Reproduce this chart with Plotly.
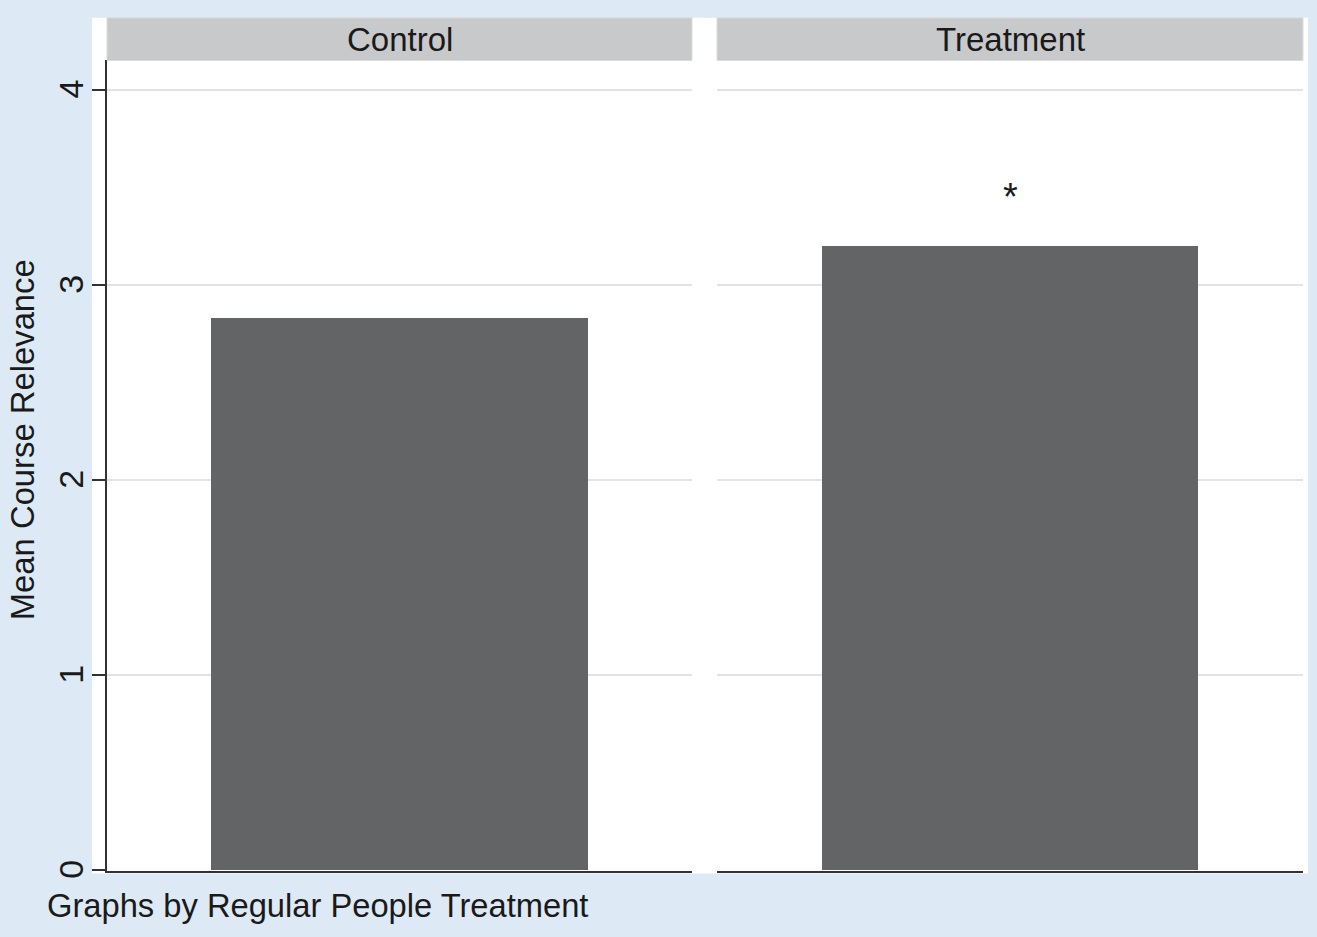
import plotly.graph_objects as go

W, H = 1317, 937

groups = ["Control", "Treatment"]
means = [2.83, 3.20]
significance = ["", "*"]
y_ticks = [0, 1, 2, 3, 4]
y_title = "Mean Course Relevance"
note = "Graphs by Regular People Treatment"

BG = "#dde9f5"
BAR = "#636466"
STRIP = "#c8c9cb"
GRID = "#e3e3e3"
AXIS = "#333333"
TXT = "#1a1a1a"
FONT = "Liberation Sans"
FS = 33

def px_x(p):
    return p / W

def px_y(p):
    return 1 - p / H

panel_x = [(107, 692), (717, 1303)]
y_bottom, y_top = 878, 61
# 0 at 878, 4 at 91
unit = (878 - 91) / 4
y_max = (y_bottom - y_top) / unit

fig = go.Figure()

for i, (g, m) in enumerate(zip(groups, means)):
    fig.add_trace(go.Bar(
        x=[g], y=[m], width=0.643,
        marker=dict(color=BAR, line=dict(width=0)),
        xaxis="x" if i == 0 else "x2",
        yaxis="y" if i == 0 else "y2",
        showlegend=False,
        hoverinfo="x+y",
    ))

layout = dict(
    width=W, height=H,
    margin=dict(l=0, r=0, t=0, b=0),
    paper_bgcolor=BG,
    plot_bgcolor="white",
    font=dict(family=FONT, size=FS, color=TXT),
    bargap=0,
)

for i, g in enumerate(groups):
    sx = "" if i == 0 else "2"
    x0, x1 = panel_x[i]
    layout["xaxis" + sx] = dict(
        domain=[px_x(x0), px_x(x1)],
        type="category", categoryorder="array", categoryarray=[g], range=[-0.5, 0.5],
        showticklabels=False, ticks="", showgrid=False, zeroline=False,
        showline=True, linecolor=AXIS, linewidth=2,
        anchor="y" + sx, fixedrange=True,
    )
    layout["yaxis" + sx] = dict(
        domain=[px_y(y_bottom), px_y(y_top)],
        range=[0, y_max],
        tickvals=y_ticks,
        showgrid=True, gridcolor=GRID, gridwidth=2,
        zeroline=False,
        anchor="x" + sx,
        fixedrange=True,
    )
    if i == 0:
        layout["yaxis"].update(
            showline=True, linecolor=AXIS, linewidth=2,
            ticks="outside", ticklen=13, tickwidth=2, tickcolor=AXIS,
            tickangle=-90, tickfont=dict(size=34, color=TXT, family=FONT),
            ticklabelstandoff=-5, ticklabelshift=4,
        )
    else:
        layout["yaxis2"].update(showline=False, showticklabels=False, ticks="")

fig.update_layout(**layout)

shapes = [dict(type="rect", xref="paper", yref="paper",
               x0=px_x(92), x1=px_x(1308), y0=px_y(881), y1=px_y(18),
               fillcolor="white", line=dict(width=0), layer="below")]
annotations = []
for i, g in enumerate(groups):
    x0, x1 = panel_x[i]
    shapes.append(dict(type="rect", xref="paper", yref="paper",
                       x0=px_x(x0), x1=px_x(x1), y0=px_y(61), y1=px_y(18),
                       fillcolor=STRIP, line=dict(color="#dcdcdc", width=1)))
    annotations.append(dict(text=g, xref="paper", yref="paper",
                            x=px_x((x0 + x1) / 2), y=px_y(39.5),
                            xanchor="center", yanchor="middle", showarrow=False,
                            font=dict(size=FS, color=TXT, family=FONT)))
    if significance[i]:
        sx = "" if i == 0 else "2"
        annotations.append(dict(text=significance[i], xref="x" + sx, yref="y" + sx,
                                x=g, y=means[i], yshift=49,
                                xanchor="center", yanchor="middle", showarrow=False,
                                font=dict(size=38, color=TXT, family=FONT)))

annotations.append(dict(text=y_title, xref="paper", yref="paper",
                        x=px_x(22), y=px_y(444), textangle=-90,
                        xanchor="center", yanchor="middle", showarrow=False,
                        font=dict(size=32.8, color=TXT, family=FONT)))
annotations.append(dict(text=note, xref="paper", yref="paper",
                        x=px_x(45), y=px_y(913),
                        xanchor="left", yanchor="middle", showarrow=False,
                        font=dict(size=32.7, color=TXT, family=FONT)))

fig.update_layout(shapes=shapes, annotations=annotations)
fig.write_html("out.html")
